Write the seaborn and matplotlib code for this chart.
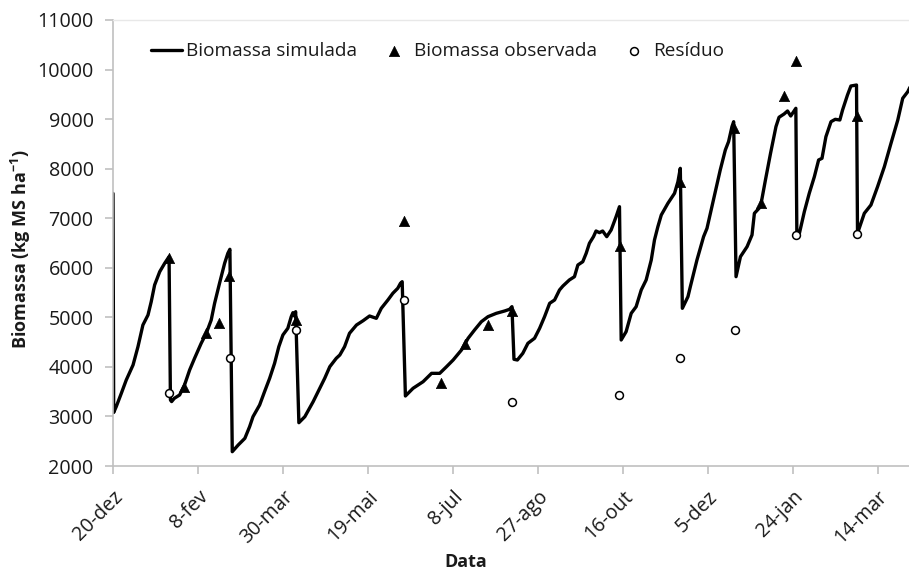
import numpy as np
import pandas as pd
import matplotlib
matplotlib.use("Agg")
import matplotlib.pyplot as plt
import seaborn as sns

# Simulated biomass (days after 20-dez-2010, kg MS/ha)
sim_days = [0, 0.4, 1.9, 4.9, 7.8, 11.8, 14.7, 17.6, 20.6, 22.5, 24.5, 27.5, 30.4, 33.0,
            33.8, 34.5, 36.1, 39.2, 42.1, 45.1, 48.0, 51.9, 54.9, 57.8, 59.8, 62.7, 65.7, 67.6, 68.8,
            70.2, 73.7, 77.6, 80.4, 82.4, 86.3, 89.2, 92.2, 95.1, 97.6, 100.0, 102.9, 104.9, 105.9, 106.6, 107.5,
            109.4, 112.9, 117.8, 121.7, 124.6, 127.6, 131.4, 133.5, 136.3, 139.2, 143.3, 147.2, 151.0, 155.0,
            157.9, 161.8, 164.7, 167.6, 169.2, 170.2,
            172.1, 176.6, 182.5, 187.5, 192.3, 196.3, 200.2, 205.1, 209.0, 212.8, 216.8, 220.7, 225.6,
            230.5, 233.4, 234.8,
            236.0, 238.0, 241.2, 244.2, 248.1, 251.1, 254.0, 257.0, 259.9, 262.8, 264.8, 268.6, 271.6,
            273.6, 276.5, 278.5, 280.4, 282.8, 284.3, 286.3, 288.2, 290.6, 293.2, 296.1, 298.1,
            299.1, 302.0, 305.0, 307.9, 310.9, 313.8, 316.8, 318.7, 320.7, 322.7, 326.6, 330.5, 332.5, 333.9,
            335.1, 338.4, 339.8, 343.7, 347.6, 349.6, 352.5, 354.5, 357.4, 360.4, 362.3, 364.3, 365.3,
            366.7, 369.3, 373.2, 376.1, 377.5, 381.1, 384.0, 387.0, 390.2, 392.0, 395.0, 397.0, 398.9, 401.9,
            402.5, 404.0, 406.9, 409.8, 412.8, 415.3, 417.3, 419.6, 422.6, 425.1, 427.8, 429.4, 432.3,
            434.3, 437.6,
            438.2, 442.2, 446.1, 450.0, 454.0, 457.9, 461.9, 464.8, 467.8, 469.0]
sim_biomass = [7500, 3080, 3197, 3467, 3735, 4038, 4408, 4845, 5047, 5316, 5653, 5921, 6090, 6224,
               3332, 3300, 3366, 3433, 3635, 3937, 4173, 4476, 4678, 4946, 5283, 5687, 6090, 6292, 6373,
               2289, 2424, 2558, 2793, 2995, 3231, 3500, 3770, 4072, 4408, 4644, 4779, 5013, 5094, 5030, 5114,
               2874, 2995, 3298, 3568, 3770, 4004, 4173, 4240, 4408, 4678, 4845, 4932, 5027, 4980,
               5182, 5350, 5485, 5586, 5687, 5719,
               3413, 3568, 3701, 3870, 3870, 4004, 4139, 4341, 4577, 4745, 4912, 5013, 5081,
               5128, 5162, 5215,
               4153, 4139, 4274, 4476, 4577, 4779, 5013, 5283, 5350, 5552, 5632, 5754, 5820,
               6056, 6123, 6292, 6494, 6628, 6742, 6709, 6742, 6628, 6763, 7031, 7233,
               4543, 4711, 5081, 5215, 5552, 5754, 6157, 6561, 6830, 7065, 7301, 7503, 7737, 8007,
               5182, 5417, 5618, 6157, 6628, 6796, 7233, 7536, 7973, 8377, 8545, 8848, 8948,
               5820, 6224, 6426, 6662, 7099, 7233, 7771, 8309, 8848, 9037, 9104, 9164, 9063, 9218,
               6662, 6696, 7132, 7503, 7838, 8175, 8209, 8645, 8948, 8996, 8982, 9184, 9487,
               9668, 9688,
               6696, 7099, 7267, 7636, 8040, 8511, 8982, 9420, 9554, 9640]

# Observed biomass
obs_days = [33.0, 41.5, 54.9, 62.1, 68.0, 107.8, 171.2, 193.3, 207.0, 220.8, 234.8,
            298.2, 333.5, 365.7, 381.2, 394.7, 401.9, 437.8]
obs_biomass = [6200, 3590, 4690, 4890, 5830, 4940, 6940, 3680, 4470, 4850, 5120,
               6440, 7740, 8820, 7300, 9470, 10170, 9060]

# Residual biomass after grazing
res_days = [33.0, 68.6, 107.8, 171.2, 234.8, 298.1, 333.9, 366.2, 401.9, 437.8]
res_biomass = [3480, 4170, 4745, 5340, 3300, 3440, 4170, 4745, 6665, 6680]

start = pd.Timestamp("2010-12-20")
tick_labels = ["20-dez", "8-fev", "30-mar", "19-mai", "8-jul", "27-ago",
               "16-out", "5-dez", "24-jan", "14-mar"]

def to_dates(days):
    return start + pd.to_timedelta(np.asarray(days, dtype=float), unit="D")

sim = pd.DataFrame({"Data": to_dates(sim_days), "Biomassa": sim_biomass})
obs = pd.DataFrame({"Data": to_dates(obs_days), "Biomassa": obs_biomass})
res = pd.DataFrame({"Data": to_dates(res_days), "Biomassa": res_biomass})

sns.set_theme(style="white")
plt.rcParams["font.family"] = ["Open Sans", "DejaVu Sans"]
plt.rcParams["mathtext.fontset"] = "custom"
plt.rcParams["mathtext.rm"] = "Open Sans"
plt.rcParams["mathtext.bf"] = "Open Sans:bold"

fig = plt.figure(figsize=(9.09, 5.71), dpi=100)
ax = fig.add_axes([113 / 909, 1 - 466 / 571, 1 - 113 / 909, (466 - 20) / 571])

sns.lineplot(data=sim, x="Data", y="Biomassa", ax=ax, color="black", lw=2.4,
             label="Biomassa simulada", zorder=2)
sns.scatterplot(data=obs, x="Data", y="Biomassa", ax=ax, marker="^", color="black",
                s=55, edgecolor="black", linewidth=0.5, label="Biomassa observada", zorder=3)
sns.scatterplot(data=res, x="Data", y="Biomassa", ax=ax, marker="o", facecolor="white",
                edgecolor="black", s=32, linewidth=1.1, label="Resíduo", zorder=4)

ax.set_xlim(start, start + pd.Timedelta(days=468.5))
ax.set_ylim(2000, 11000)
ax.set_yticks(np.arange(2000, 11001, 1000))
ticks = [start + pd.Timedelta(days=50 * i) for i in range(len(tick_labels))]
ax.set_xticks(ticks)
ax.set_xticklabels(tick_labels, rotation=45, ha="right", rotation_mode="anchor")

spine_col = "#c0c0c0"
for side in ["left", "bottom"]:
    ax.spines[side].set_color(spine_col)
    ax.spines[side].set_linewidth(1.2)
ax.spines["top"].set_color("#e8e8e8")
ax.spines["top"].set_linewidth(1.0)
ax.spines["right"].set_visible(False)
ax.tick_params(axis="both", which="major", direction="out", length=6, width=1.2,
               color=spine_col, labelsize=14.2, labelcolor="#1a1a1a",
               left=True, bottom=True)
ax.tick_params(axis="y", pad=8)
ax.tick_params(axis="x", pad=9)

ax.set_xlabel("Data", fontsize=13, fontweight="bold", color="#1a1a1a")
ax.set_ylabel(r"Biomassa (kg MS ha$^{\mathbf{-1}}$)", fontsize=13,
              fontweight="bold", color="#1a1a1a")
ax.xaxis.set_label_coords((466 - 113) / (909 - 113), -0.196)
ax.yaxis.set_label_coords(-0.101, 0.485)

leg = ax.legend(loc="upper left", bbox_to_anchor=(0.026, 0.988), ncol=3, frameon=False,
                fontsize=13.7, handlelength=1.64, handletextpad=0.2, columnspacing=1.15,
                labelcolor="#1a1a1a")

fig.savefig("out.png", dpi=100)
